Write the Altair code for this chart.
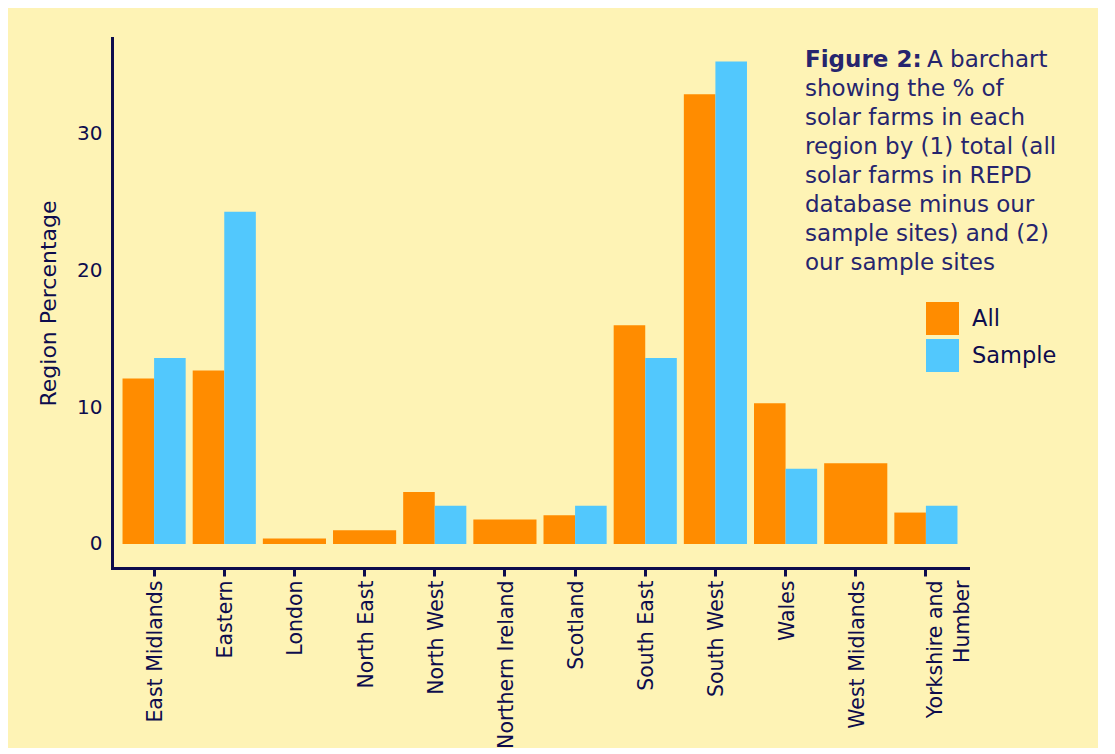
import altair as alt
import pandas as pd

regions = ["East Midlands", "Eastern", "London", "North East", "North West",
           "Northern Ireland", "Scotland", "South East", "South West", "Wales",
           "West Midlands", "Yorkshire and Humber"]
all_pct = [12.1, 12.7, 0.4, 1.0, 3.8, 1.8, 2.1, 16.0, 32.9, 10.3, 5.9, 2.3]
sample_pct = [13.6, 24.3, None, None, 2.8, None, 2.8, 13.6, 35.3, 5.5, None, 2.8]
series_names = ["All", "Sample"]
series_colors = ["#ff8c00", "#52c8fd"]
y_ticks = [0, 10, 20, 30]

caption_bold = "Figure 2:"
caption_first = "A barchart"
caption_rest = ["showing the % of", "solar farms in each", "region by (1) total (all",
                "solar farms in REPD", "database minus our", "sample sites) and (2)",
                "our sample sites"]

FONT = "DejaVu Sans"
NAVY = "#0d0c4d"
TEXTNAVY = "#26256e"
BG = "#fef3b5"

rows = []
for r, a, s in zip(regions, all_pct, sample_pct):
    n = (a is not None) + (s is not None)
    if a is not None:
        rows.append({"region": r, "series": "All", "pct": a, "n": n})
    if s is not None:
        rows.append({"region": r, "series": "Sample", "pct": s, "n": n})
df = pd.DataFrame(rows)
df_dual = df[df["n"] == 2]
df_single = df[df["n"] == 1]

x_enc = alt.X(
    "region:N",
    sort=regions,
    scale=alt.Scale(domain=regions, paddingInner=0.1, paddingOuter=0.15),
    title=None,
    axis=alt.Axis(
        labelAngle=-90,
        labelAlign="right",
        labelBaseline="middle",
        labelPadding=4,
        tickSize=8,
        tickWidth=3,
        tickColor=NAVY,
        domainColor=NAVY,
        domainWidth=3,
        domainCap="square",
        labelFontSize=20.5,
        labelFont=FONT,
        labelColor=NAVY,
        labelOverlap=False,
        labelExpr="datum.label == 'Yorkshire and Humber' ? ['Yorkshire and', 'Humber'] : datum.label",
        labelOffset={"condition": {"test": "datum.value === 'Yorkshire and Humber'", "value": 10}, "value": 2},
        labelLineHeight=27,
        grid=False,
    ),
)
y_enc = alt.Y(
    "pct:Q",
    scale=alt.Scale(domain=[-1.756, 37.02], nice=False, zero=False),
    title="Region Percentage",
    axis=alt.Axis(
        values=y_ticks,
        ticks=False,
        tickSize=0,
        labelPadding=10,
        domainColor=NAVY,
        domainWidth=3,
        domainCap="square",
        labelFontSize=20,
        labelFont=FONT,
        labelColor=NAVY,
        titleFontSize=22,
        titleFont=FONT,
        titleFontWeight="normal",
        titleColor=NAVY,
        titlePadding=16,
        grid=False,
    ),
)
color_enc = alt.Color(
    "series:N",
    scale=alt.Scale(domain=series_names, range=series_colors),
    legend=alt.Legend(
        orient="none",
        legendX=814,
        legendY=264,
        title=None,
        symbolType="square",
        symbolSize=1089,
        symbolStrokeWidth=0,
        symbolOpacity=1,
        labelFontSize=22.5,
        labelFont=FONT,
        labelColor=NAVY,
        labelOffset=13,
        rowPadding=4,
        padding=0,
    ),
)

dual = alt.Chart(df_dual).mark_bar(opacity=1).encode(
    x=x_enc,
    xOffset=alt.XOffset("series:N", scale=alt.Scale(domain=series_names, paddingInner=0, paddingOuter=0)),
    y=y_enc,
    color=color_enc,
)
single = alt.Chart(df_single).mark_bar(opacity=1).encode(
    x=x_enc,
    y=y_enc,
    color=color_enc,
)

cap_bold = alt.Chart(pd.DataFrame({"t": [caption_bold]})).mark_text(
    align="left", baseline="alphabetic", font=FONT, fontSize=23, fontWeight="bold", color=TEXTNAVY
).encode(x=alt.value(693), y=alt.value(29), text="t:N")
cap_first = alt.Chart(pd.DataFrame({"t": [caption_first]})).mark_text(
    align="left", baseline="alphabetic", font=FONT, fontSize=23, color=TEXTNAVY
).encode(x=alt.value(815), y=alt.value(29), text="t:N")
cap_rest = alt.Chart(pd.DataFrame({"t": ["\n".join(caption_rest)]})).mark_text(
    align="left", baseline="alphabetic", font=FONT, fontSize=23, color=TEXTNAVY,
    lineBreak="\n", lineHeight=29
).encode(x=alt.value(693), y=alt.value(58), text="t:N")

chart = alt.layer(dual, single, cap_bold, cap_first, cap_rest).properties(
    width=856,
    height=530,
    padding={"left": 104, "top": 30, "right": 130, "bottom": 180},
    autosize=alt.AutoSizeParams(type="none"),
    background=BG,
).configure_view(stroke=None)

chart.save("out.html", embed_options={"renderer": "svg", "actions": False})
